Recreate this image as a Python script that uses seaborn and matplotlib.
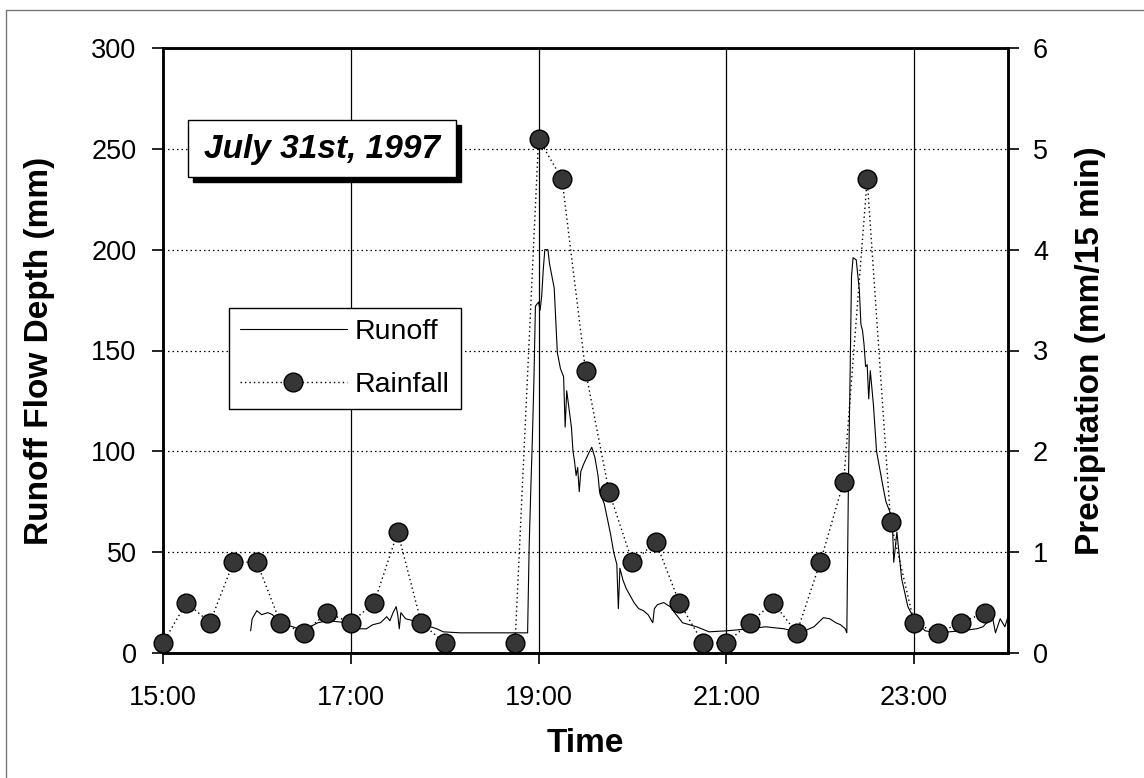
import numpy as np
import pandas as pd
import matplotlib
matplotlib.use("Agg")
import matplotlib.pyplot as plt
import seaborn as sns
from matplotlib.lines import Line2D
from matplotlib.patches import Rectangle

# ---------------- data ----------------
rain_time = ["15:00", "15:15", "15:30", "15:45", "16:00", "16:15", "16:30", "16:45",
             "17:00", "17:15", "17:30", "17:45", "18:00", "18:15", "18:30", "18:45",
             "19:00", "19:15", "19:30", "19:45", "20:00", "20:15", "20:30", "20:45",
             "21:00", "21:15", "21:30", "21:45", "22:00", "22:15", "22:30", "22:45",
             "23:00", "23:15", "23:30", "23:45"]
rain_mm = [0.1, 0.5, 0.3, 0.9, 0.9, 0.3, 0.2, 0.4,
           0.3, 0.5, 1.2, 0.3, 0.1, np.nan, np.nan, 0.1,
           5.1, 4.7, 2.8, 1.6, 0.9, 1.1, 0.5, 0.1,
           0.1, 0.3, 0.5, 0.2, 0.9, 1.7, 4.7, 1.3,
           0.3, 0.2, 0.3, 0.4]

runoff_time = ["15:56", "15:57", "16:00", "16:03", "16:07", "16:10", "16:13", "16:18",
               "16:23", "16:30", "16:34", "16:39", "16:45", "16:58", "17:03", "17:06",
               "17:10", "17:14", "17:19", "17:23", "17:25", "17:27", "17:29", "17:30",
               "17:31", "17:32", "17:35", "17:40", "17:47", "17:55", "17:59", "18:10",
               "18:53", "18:54", "18:55", "18:56", "18:57", "18:58", "19:00", "19:01",
               "19:02", "19:03", "19:04", "19:06", "19:07", "19:09", "19:10", "19:12",
               "19:14", "19:16", "19:17", "19:18", "19:20", "19:21", "19:22", "19:23",
               "19:24", "19:25", "19:26", "19:27", "19:29", "19:32", "19:34", "19:36",
               "19:38", "19:39", "19:42", "19:46", "19:48", "19:50", "19:51", "19:52",
               "19:54", "19:56", "20:01", "20:04", "20:07", "20:10", "20:13", "20:14",
               "20:16", "20:20", "20:24", "20:28", "20:32", "20:41", "20:49", "21:00",
               "21:15", "21:25", "21:37", "21:47", "21:56", "22:02", "22:06", "22:10",
               "22:13", "22:16", "22:17", "22:18", "22:19", "22:20", "22:21", "22:23",
               "22:25", "22:26", "22:27", "22:28", "22:29", "22:30", "22:31", "22:32",
               "22:34", "22:36", "22:40", "22:42", "22:46", "22:47", "22:49", "22:52",
               "22:56", "23:00", "23:07", "23:15", "23:30", "23:40", "23:44", "23:50",
               "23:52", "23:55", "23:58", "24:00"]
runoff_mm = [11, 17, 21, 19, 20, 19, 16, 14,
             13, 11, 13, 15, 16, 15, 13, 12,
             12, 14, 15, 18, 16, 20, 23, 19,
             12, 20, 17, 16, 14, 12, 10.5, 10,
             10, 53, 80, 105, 134, 172, 174, 170,
             177, 190, 200, 200, 193, 185, 181, 149,
             141, 137, 112, 130, 118, 112, 100, 95,
             88, 92, 80, 90, 94, 99, 102, 97,
             88, 80, 74, 59, 50, 44, 22, 42,
             36, 32, 25, 22, 21, 19, 15, 22,
             24, 25, 23, 19, 15, 13, 10.5, 11,
             12, 13, 12, 10, 13, 17.5, 17, 15,
             14, 12, 10, 83, 133, 187, 196, 195,
             180, 163, 160, 153, 142, 143, 126, 140,
             123, 100, 83, 75, 67, 45, 60, 37,
             23, 17, 11, 10, 11, 12, 13, 18,
             10, 17, 13, 18]

x_tick_labels = ["15:00", "17:00", "19:00", "21:00", "23:00"]
left_ticks = [0, 50, 100, 150, 200, 250, 300]
right_ticks = [0, 1, 2, 3, 4, 5, 6]


def to_hours(s):
    h, m = s.split(":")
    return int(h) + int(m) / 60.0


rain_df = pd.DataFrame({"t": [to_hours(s) for s in rain_time], "mm": rain_mm})
rain_df["seg"] = rain_df["mm"].isna().cumsum()
rain_df = rain_df.dropna()
run_df = pd.DataFrame({"t": [to_hours(s) for s in runoff_time], "mm": runoff_mm})

# ---------------- style ----------------
sns.set_style("ticks")
plt.rcParams["font.family"] = ["Liberation Sans", "DejaVu Sans"]
plt.rcParams["text.color"] = "black"
plt.rcParams["axes.labelcolor"] = "black"
plt.rcParams["xtick.color"] = "black"
plt.rcParams["ytick.color"] = "black"

W, H = 1144, 778
fig = plt.figure(figsize=(W / 100, H / 100), dpi=100)
L, R, T, B = 163, 1008, 48, 653
ax = fig.add_axes([L / W, 1 - B / H, (R - L) / W, (B - T) / H])
ax2 = ax.twinx()

# runoff line (left axis)
sns.lineplot(data=run_df, x="t", y="mm", ax=ax, color="black", linewidth=0.8,
             sort=False, estimator=None, legend=False, zorder=3)

# rainfall (right axis)
sns.lineplot(data=rain_df, x="t", y="mm", units="seg", estimator=None, ax=ax2,
             color="black", linewidth=1.0, linestyle=(0, (1, 2.2)), marker="o",
             markersize=13.5, markerfacecolor="#363636", markeredgecolor="black",
             markeredgewidth=1.0, legend=False, clip_on=False, zorder=4)

# axes limits / ticks
ax.set_xlim(15, 24)
ax.set_ylim(0, 300)
ax2.set_ylim(0, 6)
xt = [to_hours(s) for s in x_tick_labels]
ax.set_xticks(xt)
ax.set_xticklabels(x_tick_labels)
ax.set_yticks(left_ticks)
ax2.set_yticks(right_ticks)

ax.grid(False)
ax2.grid(False)
for v in left_ticks[1:-1]:
    ax.axhline(v, color="black", linewidth=0.9, linestyle=(0, (1.2, 2.4)), zorder=1)
for v in xt[1:]:
    ax.axvline(v, color="black", linewidth=0.9, zorder=1)

for a in (ax, ax2):
    for sp in a.spines.values():
        sp.set_visible(True)
        sp.set_color("black")
        sp.set_linewidth(1.8)

ax.tick_params(axis="both", direction="out", length=8, width=1.2, colors="black",
               labelsize=19.5)
ax.tick_params(axis="y", pad=11)
ax.tick_params(axis="x", pad=15)
ax2.tick_params(axis="y", direction="out", length=8, width=1.2, colors="black",
                labelsize=19.5, pad=10)

ax.set_xlabel("Time", fontsize=24, fontweight="bold")
ax.set_ylabel("Runoff Flow Depth (mm)", fontsize=24, fontweight="bold")
ax2.set_ylabel("Precipitation (mm/15 min)", fontsize=24, fontweight="bold",
               rotation=90)
ax.xaxis.set_label_coords(0.5, (B - 743) / (B - T))
ax.yaxis.set_label_coords((40 - L) / (R - L), 0.5)
ax2.yaxis.set_label_coords((1091 - L) / (R - L), 0.5)
ax.yaxis.label.set_verticalalignment("center")
ax2.yaxis.label.set_verticalalignment("center")
ax.xaxis.label.set_verticalalignment("center")

# title box with shadow
bx0, by0, bx1, by1 = 188, 120, 456, 177
sh = 5
fig.add_artist(Rectangle(((bx0 + sh) / W, 1 - (by1 + sh) / H), (bx1 - bx0) / W,
                         (by1 - by0) / H, transform=fig.transFigure,
                         facecolor="black", edgecolor="black", zorder=10))
fig.add_artist(Rectangle((bx0 / W, 1 - by1 / H), (bx1 - bx0) / W, (by1 - by0) / H,
                         transform=fig.transFigure, facecolor="white",
                         edgecolor="black", linewidth=1.0, zorder=11))
fig.text((bx0 + bx1) / 2 / W, 1 - (by0 + by1 + 2) / 2 / H, "July 31st, 1997",
         fontsize=24, fontweight="bold", fontstyle="italic", ha="center",
         va="center", zorder=12)

# legend
handles = [
    Line2D([], [], color="black", linewidth=0.8),
    Line2D([], [], color="black", linewidth=1.0, linestyle=(0, (1, 2.2)), marker="o",
           markersize=13.5, markerfacecolor="#363636", markeredgecolor="black"),
]
leg = ax2.legend(handles, ["Runoff", "Rainfall"], loc="upper left",
                 bbox_to_anchor=(229 / W, 1 - 308 / H), bbox_transform=fig.transFigure,
                 fontsize=20.5, frameon=True, fancybox=False, edgecolor="black",
                 framealpha=1, handlelength=3.75, handletextpad=0.28,
                 labelspacing=0.95, borderpad=0.39, borderaxespad=0)
leg.get_frame().set_linewidth(1.0)
leg.set_zorder(20)

# outer chart-area border (top and left)
fig.add_artist(Line2D([6 / W, 1], [1 - 10 / H, 1 - 10 / H], color="#777777",
                      linewidth=1.0, transform=fig.transFigure))
fig.add_artist(Line2D([6 / W, 6 / W], [0, 1 - 10 / H], color="#777777",
                      linewidth=1.0, transform=fig.transFigure))

fig.savefig("out.png", dpi=100, facecolor="white")
